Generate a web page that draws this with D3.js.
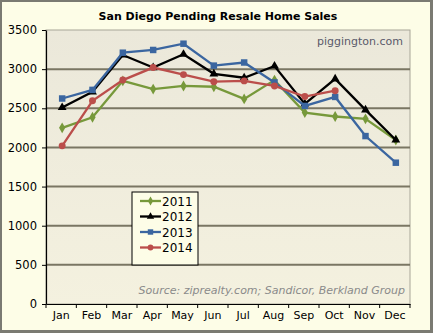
<!DOCTYPE html>
<html>
<head>
<meta charset="utf-8">
<script src="https://cdn.jsdelivr.net/npm/d3@7"></script>
<style>
  body { margin: 0; background: #fff; }
  svg { display: block; }
</style>
</head>
<body>
<svg id="chart" width="433" height="333"></svg>
<script>
// Månader och serier
const months = ["Jan", "Feb", "Mar", "Apr", "May", "Jun", "Jul", "Aug", "Sep", "Oct", "Nov", "Dec"];
const yTicks = [0, 500, 1000, 1500, 2000, 2500, 3000, 3500];
const sales2011 = [2250, 2385, 2850, 2745, 2785, 2775, 2620, 2860, 2445, 2395, 2365, 2095];
const sales2012 = [2510, 2710, 3180, 3020, 3190, 2940, 2890, 3040, 2555, 2875, 2480, 2095];
const sales2013 = [2625, 2735, 3210, 3245, 3325, 3045, 3085, 2830, 2530, 2645, 2145, 1805];
const sales2014 = [2020, 2595, 2860, 3020, 2930, 2840, 2850, 2785, 2650, 2725];

const series = [
  { name: "2011", values: sales2011, color: "#77993b", shape: d3.symbolDiamond, size: 34 },
  { name: "2012", values: sales2012, color: "#000000", shape: d3.symbolTriangle, size: 34 },
  { name: "2013", values: sales2013, color: "#3b66a0", shape: d3.symbolSquare, size: 42 },
  { name: "2014", values: sales2014, color: "#bb4e4b", shape: d3.symbolCircle, size: 38 }
];

const W = 433, H = 333;
const plot = { left: 46, right: 410, top: 30, bottom: 304 };
const font = "'DejaVu Sans', Verdana, sans-serif";

const svg = d3.select("#chart");

// Bakgrund och ram
svg.append("rect").attr("x", 0).attr("y", 0).attr("width", W).attr("height", H).attr("fill", "#7a7a72");
svg.append("rect").attr("x", 2).attr("y", 2).attr("width", W - 5).attr("height", H - 5).attr("fill", "#fdfde7");

const defs = svg.append("defs");
const grad = defs.append("linearGradient").attr("id", "plotbg").attr("x1", 0).attr("y1", 0).attr("x2", 0).attr("y2", 1);
grad.append("stop").attr("offset", "0%").attr("stop-color", "#ebe8da");
grad.append("stop").attr("offset", "100%").attr("stop-color", "#f4f1df");

svg.append("rect")
  .attr("x", plot.left).attr("y", plot.top)
  .attr("width", plot.right - plot.left).attr("height", plot.bottom - plot.top)
  .attr("fill", "url(#plotbg)")
  .attr("stroke", "#a8a698").attr("stroke-width", 1);

const x = d3.scaleBand().domain(months).range([plot.left, plot.right]);
const y = d3.scaleLinear().domain([0, 3500]).range([plot.bottom, plot.top]);

// Rutnät
svg.append("g").selectAll("line").data(yTicks.filter(t => t > 0 && t < 3500)).join("line")
  .attr("x1", plot.left).attr("x2", plot.right)
  .attr("y1", d => y(d)).attr("y2", d => y(d))
  .attr("stroke", "#7a7663").attr("stroke-width", 2);

// Vattenmärke och källa
svg.append("text").attr("x", 403).attr("y", 45).attr("text-anchor", "end")
  .style("font-family", font).style("font-size", "11px").attr("fill", "#5a5a6a")
  .text("piggington.com");
svg.append("text").attr("x", 405).attr("y", 294).attr("text-anchor", "end")
  .style("font-family", font).style("font-size", "11px").style("font-style", "italic").attr("fill", "#8a8a8a")
  .text("Source: ziprealty.com; Sandicor, Berkland Group");

// Axlar
const yAxis = svg.append("g").attr("transform", `translate(${plot.left},0)`)
  .call(d3.axisLeft(y).tickValues(yTicks).tickFormat(d3.format("d")).tickSize(4).tickSizeOuter(0));
const xAxis = svg.append("g").attr("transform", `translate(0,${plot.bottom})`)
  .call(d3.axisBottom(x).tickSize(0).tickSizeOuter(0).tickPadding(8));
xAxis.selectAll(".tick").remove();
svg.append("g").attr("transform", `translate(0,${plot.bottom})`)
  .selectAll("line").data(months.concat(["end"])).join("line")
  .attr("x1", (d, i) => plot.left + i * x.bandwidth()).attr("x2", (d, i) => plot.left + i * x.bandwidth())
  .attr("y1", 0).attr("y2", 4).attr("stroke", "#000");
svg.append("g").selectAll("text").data(months).join("text")
  .attr("x", d => x(d) + x.bandwidth() / 2).attr("y", 319)
  .attr("text-anchor", "middle")
  .style("font-family", font).style("font-size", "11px").attr("fill", "#000")
  .text(d => d);
[yAxis, xAxis].forEach(g => {
  g.select(".domain").attr("stroke", "#000").attr("stroke-width", 1.2);
  g.selectAll("text").style("font-family", font).style("font-size", "11.5px").attr("fill", "#000");
});
yAxis.selectAll(".tick line").attr("stroke", "#000");
yAxis.selectAll(".tick text").attr("x", -9);

// Titel
svg.append("text").attr("x", 218).attr("y", 20).attr("text-anchor", "middle")
  .style("font-family", font).style("font-size", "11px").style("font-weight", "bold")
  .text("San Diego Pending Resale Home Sales");

// Linjer
const line = d3.line().x((d, i) => x(months[i]) + x.bandwidth() / 2 + 1).y(d => y(d));
series.forEach(s => {
  svg.append("path").datum(s.values)
    .attr("d", line).attr("fill", "none")
    .attr("stroke", s.color).attr("stroke-width", 2.3);
  svg.append("g").selectAll("path").data(s.values).join("path")
    .attr("transform", (d, i) => `translate(${x(months[i]) + x.bandwidth() / 2 + 1},${y(d)})`)
    .attr("d", d3.symbol().type(s.shape).size(s.size))
    .attr("fill", s.color);
});

// Förklaring
const lg = svg.append("g").attr("transform", "translate(132,192)");
lg.append("rect").attr("width", 66).attr("height", 73).attr("fill", "#fdfde7")
  .attr("stroke", "#000").attr("stroke-width", 1);
series.forEach((s, i) => {
  const cy = 9 + i * 15.5;
  lg.append("line").attr("x1", 8).attr("x2", 29).attr("y1", cy).attr("y2", cy)
    .attr("stroke", s.color).attr("stroke-width", 2.3);
  lg.append("path").attr("transform", `translate(18.5,${cy})`)
    .attr("d", d3.symbol().type(s.shape).size(s.size * 0.7)).attr("fill", s.color);
  lg.append("text").attr("x", 30).attr("y", cy + 4.5)
    .style("font-family", font).style("font-size", "12px").attr("fill", "#000")
    .text(s.name);
});
</script>
</body>
</html>
